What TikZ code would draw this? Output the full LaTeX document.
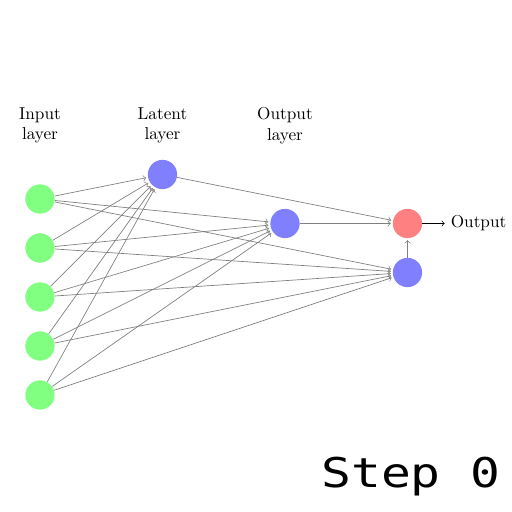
\documentclass[tikz,border=0pt]{standalone}
\usepackage{fontspec}
\newfontfamily\stepfont{DejaVu Sans Mono}
\usetikzlibrary{positioning}

\begin{document}
\begin{tikzpicture}[
	neuron/.style={circle,minimum size=17pt,inner sep=0pt},
	input neuron/.style={neuron,fill=green!50},
	latent neuron/.style={neuron,fill=blue!50},
	output neuron/.style={neuron,fill=red!50},
	link/.style={->,shorten >=1pt,draw=black!50},
	annot/.style={text width=4em,text centered}]
	\def\layersep{2.5cm}
	\useasboundingbox (-0.816,3.061) rectangle (9.633,-7.388);

	\node[input neuron] (I-1) at (0,-1) {};
	\node[input neuron] (I-2) at (0,-2) {};
	\node[input neuron] (I-3) at (0,-3) {};
	\node[input neuron] (I-4) at (0,-4) {};
	\node[input neuron] (I-5) at (0,-5) {};

	\node[latent neuron] (L) at (\layersep,-0.5) {};
	\node[latent neuron] (H) at (2*\layersep,-1.5) {};
	\node[output neuron] (R) at (3*\layersep,-1.5) {};
	\node[latent neuron] (B) at (3*\layersep,-2.5) {};
	\node (O) [right=3ex of R] {Output};

	\node[annot] (a-in) at (0,0.5) {Input layer};
	\node[annot] (a-lat) at (\layersep,0.5) {Latent layer};
	\node[annot] (a-out) at (2*\layersep,0.5) {Output layer};

	\draw[link] (I-1) -- (L);
	\draw[link] (I-2) -- (L);
	\draw[link] (I-3) -- (L);
	\draw[link] (I-4) -- (L);
	\draw[link] (I-5) -- (L);

	\draw[link] (I-1) -- (H);
	\draw[link] (I-2) -- (H);
	\draw[link] (I-3) -- (H);
	\draw[link] (I-4) -- (H);
	\draw[link] (I-5) -- (H);

	\draw[link] (I-1) -- (B);
	\draw[link] (I-2) -- (B);
	\draw[link] (I-3) -- (B);
	\draw[link] (I-4) -- (B);
	\draw[link] (I-5) -- (B);

	\draw[link] (L) -- (R);
	\draw[link] (H) -- (R);
	\draw[link] (B) -- (R);
	\draw[->] (R) -- (O);

	\node[anchor=base west,inner sep=0pt,xscale=1.21] (step) at (5.735,-6.878) {\stepfont\fontsize{23.8}{28}\selectfont Step 0};
\end{tikzpicture}
\end{document}
